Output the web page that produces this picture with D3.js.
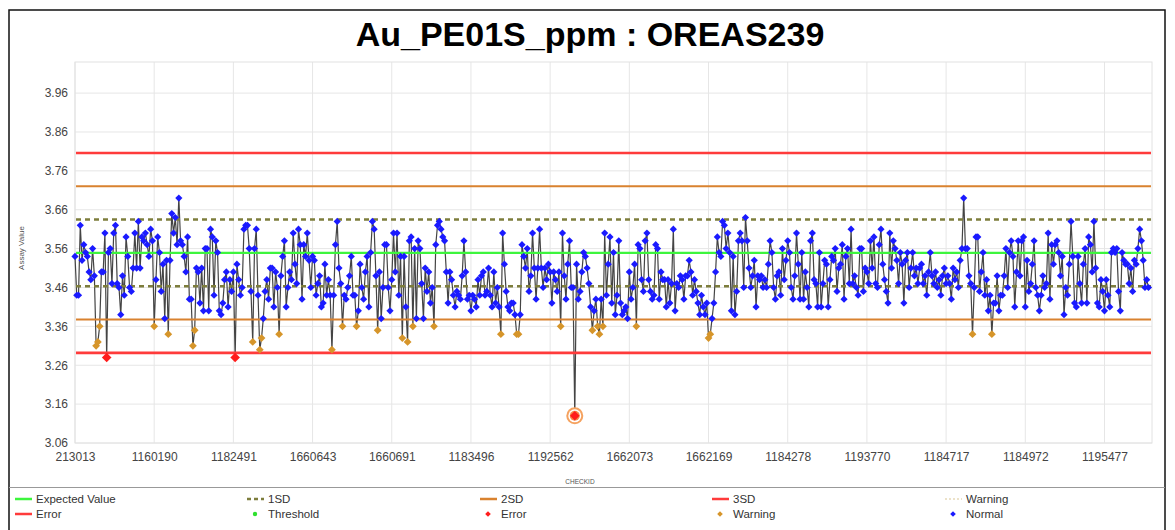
<!DOCTYPE html>
<html>
<head>
<meta charset="utf-8">
<script src="https://cdn.jsdelivr.net/npm/d3@7"></script>
<style>
  body { margin: 0; background: #fff; }
  svg text { font-family: "Liberation Sans", Arial, sans-serif; }
</style>
</head>
<body>
<svg id="qc" width="1175" height="530"></svg>
<script>
// CHECKID labels shown on the x axis, one every 45 checks
var tickLabels = ["213013", "1160190", "1182491", "1660643", "1660691", "1183496", "1192562",
                  "1662073", "1662169", "1184278", "1193770", "1184717", "1184972", "1195477"];
var pointsPerTick = 45;

var yTicks = [3.06, 3.16, 3.26, 3.36, 3.46, 3.56, 3.66, 3.76, 3.86, 3.96];

// standard OREAS239
var expectedValue = 3.549;
var stdDev = 0.0857;

// Au_PE01S_ppm assays, in CHECKID order
var assayValues = [
  // 213013
  3.54,3.44,3.44,3.62,3.53,3.57,3.55,3.54,3.50,3.48,3.56,3.49,3.31,3.32,3.36,3.50,3.50,3.60,3.28,3.55,3.56,3.47,3.60,3.62,3.47,3.46,3.39,3.49,3.44,3.59,3.54,3.46,3.45,3.51,3.60,3.51,3.63,3.51,3.59,3.58,3.60,3.57,3.54,3.61,3.58,
  // 1160190
  3.36,3.48,3.59,3.55,3.45,3.52,3.38,3.53,3.34,3.53,3.65,3.60,3.64,3.57,3.69,3.58,3.57,3.54,3.50,3.59,3.43,3.43,3.31,3.35,3.51,3.50,3.42,3.51,3.40,3.56,3.56,3.40,3.61,3.59,3.44,3.58,3.55,3.40,3.39,3.42,3.48,3.50,3.41,3.48,3.45,
  // 1182491
  3.50,3.28,3.52,3.48,3.44,3.46,3.61,3.62,3.62,3.56,3.45,3.32,3.56,3.61,3.44,3.30,3.33,3.38,3.45,3.48,3.43,3.51,3.51,3.41,3.50,3.46,3.34,3.49,3.54,3.58,3.41,3.46,3.50,3.48,3.60,3.52,3.47,3.61,3.57,3.43,3.57,3.54,3.60,3.53,3.46,
  // 1660643
  3.54,3.53,3.44,3.47,3.49,3.41,3.42,3.52,3.44,3.48,3.44,3.30,3.44,3.57,3.63,3.51,3.47,3.36,3.44,3.43,3.46,3.49,3.54,3.44,3.44,3.36,3.40,3.52,3.46,3.43,3.50,3.54,3.41,3.55,3.63,3.61,3.49,3.35,3.50,3.38,3.46,3.57,3.57,3.46,3.40,
  // 1660691
  3.48,3.60,3.50,3.60,3.44,3.54,3.33,3.54,3.41,3.32,3.58,3.59,3.36,3.56,3.38,3.58,3.56,3.47,3.38,3.51,3.45,3.50,3.42,3.46,3.36,3.57,3.62,3.63,3.61,3.59,3.58,3.50,3.42,3.50,3.48,3.44,3.41,3.45,3.44,3.43,3.49,3.58,3.50,3.43,3.44,
  // 1183496
  3.40,3.44,3.43,3.41,3.48,3.44,3.49,3.50,3.44,3.45,3.51,3.44,3.41,3.50,3.42,3.46,3.41,3.34,3.60,3.52,3.45,3.41,3.40,3.42,3.42,3.39,3.34,3.34,3.39,3.57,3.54,3.51,3.56,3.45,3.49,3.60,3.51,3.43,3.51,3.61,3.51,3.46,3.51,3.48,3.52,
  // 1192562
  3.50,3.42,3.50,3.48,3.45,3.50,3.36,3.60,3.49,3.43,3.52,3.58,3.46,3.46,3.13,3.52,3.43,3.45,3.50,3.55,3.54,3.51,3.47,3.41,3.35,3.40,3.43,3.36,3.34,3.43,3.36,3.60,3.44,3.52,3.59,3.42,3.55,3.39,3.44,3.58,3.42,3.39,3.40,3.41,3.38,
  // 1662073
  3.50,3.43,3.46,3.52,3.36,3.57,3.56,3.48,3.45,3.58,3.60,3.48,3.45,3.43,3.44,3.57,3.56,3.43,3.50,3.48,3.48,3.41,3.48,3.42,3.47,3.61,3.40,3.47,3.46,3.49,3.48,3.43,3.49,3.49,3.53,3.50,3.44,3.48,3.45,3.42,3.39,3.44,3.41,3.39,3.42,
  // 1662169
  3.33,3.34,3.38,3.42,3.50,3.59,3.55,3.54,3.63,3.62,3.56,3.60,3.55,3.40,3.54,3.39,3.45,3.58,3.60,3.58,3.46,3.64,3.58,3.51,3.46,3.49,3.53,3.41,3.49,3.48,3.49,3.46,3.48,3.46,3.52,3.58,3.55,3.46,3.43,3.49,3.50,3.44,3.56,3.48,3.53,
  // 1184278
  3.58,3.55,3.46,3.43,3.49,3.60,3.52,3.43,3.55,3.43,3.50,3.46,3.41,3.58,3.60,3.48,3.47,3.41,3.55,3.41,3.47,3.53,3.52,3.41,3.48,3.54,3.53,3.56,3.45,3.51,3.52,3.57,3.43,3.54,3.56,3.47,3.61,3.47,3.49,3.46,3.44,3.56,3.56,3.45,3.51,
  // 1193770
  3.50,3.47,3.58,3.51,3.59,3.47,3.46,3.57,3.61,3.52,3.48,3.45,3.42,3.60,3.51,3.58,3.56,3.53,3.47,3.55,3.52,3.42,3.53,3.55,3.46,3.51,3.55,3.49,3.51,3.47,3.51,3.52,3.47,3.49,3.44,3.50,3.55,3.49,3.47,3.50,3.46,3.48,3.44,3.49,3.51,
  // 1184717
  3.47,3.49,3.47,3.43,3.51,3.48,3.50,3.46,3.53,3.56,3.69,3.56,3.56,3.49,3.47,3.34,3.46,3.59,3.59,3.45,3.50,3.55,3.44,3.48,3.40,3.44,3.34,3.42,3.42,3.49,3.40,3.44,3.44,3.49,3.56,3.46,3.55,3.58,3.54,3.41,3.50,3.58,3.49,3.58,3.59,
  // 1184972
  3.41,3.53,3.45,3.47,3.52,3.58,3.46,3.44,3.40,3.44,3.49,3.46,3.47,3.60,3.43,3.57,3.52,3.57,3.58,3.55,3.49,3.54,3.39,3.46,3.44,3.52,3.63,3.54,3.42,3.41,3.54,3.47,3.42,3.52,3.56,3.42,3.59,3.57,3.50,3.63,3.51,3.42,3.41,3.48,3.45,
  // 1195477
  3.40,3.48,3.44,3.41,3.55,3.56,3.55,3.56,3.45,3.40,3.55,3.53,3.52,3.52,3.47,3.51,3.45,3.53,3.52,3.56,3.61,3.58,3.53,3.46,3.48,3.46
];

// the check that is ringed on the chart
var highlightIndex = 284;

var legendRows = [
  [{label: "Expected Value", kind: "line", color: "#3df53d"},
   {label: "1SD", kind: "dash", color: "#7d7d3c"},
   {label: "2SD", kind: "line", color: "#d9822f"},
   {label: "3SD", kind: "line", color: "#ff3b3b"},
   {label: "Warning", kind: "dots", color: "#e6d9b8"}],
  [{label: "Error", kind: "line", color: "#ff3b3b"},
   {label: "Threshold", kind: "dot", color: "#2ee02e"},
   {label: "Error", kind: "diamond", color: "#ff1c1c"},
   {label: "Warning", kind: "diamond", color: "#d6952a"},
   {label: "Normal", kind: "diamond", color: "#1a1aff"}]
];

var svg = d3.select("#qc");
var plot = {left: 75, right: 1152, top: 62, bottom: 443};

var x = d3.scaleLinear().domain([0, 612]).range([plot.left, plot.right]);
var y = d3.scaleLinear().domain([3.06, 4.04]).range([plot.bottom, plot.top]);

function diamond(r) {
  return "M0," + (-r) + "L" + r + ",0L0," + r + "L" + (-r) + ",0Z";
}

// outer frame + title
svg.append("rect")
    .attr("x", 9).attr("y", 10)
    .attr("width", 1156).attr("height", 540)
    .attr("fill", "none")
    .attr("stroke", "#111")
    .attr("stroke-width", 1.5);

svg.append("text")
    .attr("x", 590).attr("y", 46)
    .attr("text-anchor", "middle")
    .style("font-size", "34px")
    .style("font-weight", "bold")
    .attr("fill", "#000")
    .text("Au_PE01S_ppm : OREAS239");

// grid
var tickIdx = tickLabels.map(function(d, i) { return i * pointsPerTick; });

svg.append("g").selectAll("line.vg")
    .data(tickIdx)
  .enter().append("line")
    .attr("x1", function(d) { return x(d); })
    .attr("x2", function(d) { return x(d); })
    .attr("y1", plot.top).attr("y2", plot.bottom)
    .attr("stroke", "#e6e6e6");

svg.append("g").selectAll("line.hg")
    .data(yTicks)
  .enter().append("line")
    .attr("x1", plot.left).attr("x2", plot.right)
    .attr("y1", function(d) { return y(d); })
    .attr("y2", function(d) { return y(d); })
    .attr("stroke", "#e6e6e6");

svg.append("rect")
    .attr("x", plot.left).attr("y", plot.top)
    .attr("width", plot.right - plot.left).attr("height", plot.bottom - plot.top)
    .attr("fill", "none")
    .attr("stroke", "#e2e2e2");

// axes (labels only)
var xAxis = svg.append("g")
    .attr("transform", "translate(0," + plot.bottom + ")")
    .call(d3.axisBottom(x).tickValues(tickIdx).tickSize(0).tickPadding(9)
      .tickFormat(function(d) { return tickLabels[d / pointsPerTick]; }));

var yAxis = svg.append("g")
    .attr("transform", "translate(" + plot.left + ",0)")
    .call(d3.axisLeft(y).tickValues(yTicks).tickSize(0).tickPadding(7).tickFormat(d3.format(".2f")));

[xAxis, yAxis].forEach(function(a) {
  a.select(".domain").remove();
  a.selectAll("text").style("font-size", "12px").attr("fill", "#444");
});

svg.append("text")
    .attr("transform", "translate(24,248) rotate(-90)")
    .attr("text-anchor", "middle")
    .style("font-size", "8px")
    .attr("fill", "#555")
    .text("Assay Value");

svg.append("text")
    .attr("x", 580).attr("y", 484)
    .attr("text-anchor", "middle")
    .style("font-size", "6.5px")
    .attr("fill", "#555")
    .text("CHECKID");

// assay trace
var line = d3.line()
    .x(function(d, i) { return x(i); })
    .y(function(d) { return y(d); });

svg.append("path")
    .datum(assayValues)
    .attr("fill", "none")
    .attr("stroke", "#444")
    .attr("stroke-width", 1.2)
    .attr("d", line);

// control limits
var limits = [
  {v: expectedValue, color: "#3df53d", width: 2.2, dash: null},
  {v: expectedValue + stdDev, color: "#7d7d3c", width: 2.5, dash: "5,4"},
  {v: expectedValue - stdDev, color: "#7d7d3c", width: 2.5, dash: "5,4"},
  {v: expectedValue + 2 * stdDev, color: "#d9822f", width: 2, dash: null},
  {v: expectedValue - 2 * stdDev, color: "#d9822f", width: 2, dash: null},
  {v: expectedValue + 3 * stdDev, color: "#ff3b3b", width: 2.6, dash: null},
  {v: expectedValue - 3 * stdDev, color: "#ff3b3b", width: 2.6, dash: null}
];

svg.append("g").selectAll("line")
    .data(limits)
  .enter().append("line")
    .attr("x1", plot.left + 1).attr("x2", plot.right - 1)
    .attr("y1", function(d) { return y(d.v); })
    .attr("y2", function(d) { return y(d.v); })
    .attr("stroke", function(d) { return d.color; })
    .attr("stroke-width", function(d) { return d.width; })
    .attr("stroke-dasharray", function(d) { return d.dash; });

// points
function status(v) {
  var dev = Math.abs(v - expectedValue);
  if (dev > 3 * stdDev) return "error";
  if (dev > 2 * stdDev) return "warning";
  return "normal";
}
var pointColor = {normal: "#1a1aff", warning: "#d6952a", error: "#ff1c1c"};
var pointSize = {normal: 3.6, warning: 3.9, error: 4.8};

var hv = assayValues[highlightIndex];
var ring = svg.append("g").attr("transform", "translate(" + x(highlightIndex) + "," + y(hv) + ")");
ring.append("circle").attr("r", 8.5).attr("fill", "#f5a25f");
ring.append("circle").attr("r", 6.5).attr("fill", "#fff");
ring.append("circle").attr("r", 5).attr("fill", "#f78a4a");

svg.append("g").selectAll("path")
    .data(assayValues)
  .enter().append("path")
    .attr("transform", function(d, i) { return "translate(" + x(i) + "," + y(d) + ")"; })
    .attr("d", function(d) { return diamond(pointSize[status(d)]); })
    .attr("fill", function(d) { return pointColor[status(d)]; });

// legend
svg.append("line")
    .attr("x1", 9).attr("x2", 1165)
    .attr("y1", 487.5).attr("y2", 487.5)
    .attr("stroke", "#999");

var colX = [15, 247, 480, 712, 945];
var rowY = [499, 514];

legendRows.forEach(function(row, r) {
  row.forEach(function(item, c) {
    var g = svg.append("g").attr("transform", "translate(" + colX[c] + "," + rowY[r] + ")");
    if (item.kind === "line" || item.kind === "dash" || item.kind === "dots") {
      g.append("line")
          .attr("x1", 0).attr("x2", 17).attr("y1", 0).attr("y2", 0)
          .attr("stroke", item.color)
          .attr("stroke-width", item.kind === "dots" ? 1.5 : 2.5)
          .attr("stroke-dasharray", item.kind === "dash" ? "4,3" : item.kind === "dots" ? "2,2" : null);
    } else if (item.kind === "dot") {
      g.append("circle").attr("cx", 8).attr("r", 2.2).attr("fill", item.color);
    } else {
      g.append("path").attr("transform", "translate(8,0)").attr("d", diamond(2.8)).attr("fill", item.color);
    }
    g.append("text")
        .attr("x", 21).attr("y", 4)
        .style("font-size", "11.5px")
        .attr("fill", "#333")
        .text(item.label);
  });
});
</script>
</body>
</html>
